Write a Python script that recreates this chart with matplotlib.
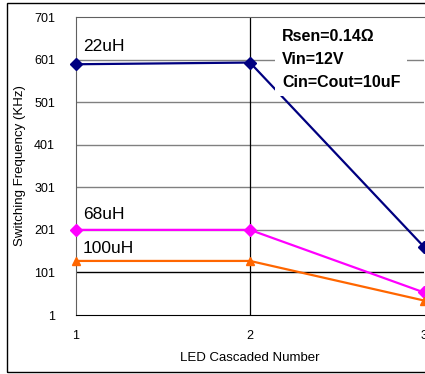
import matplotlib
matplotlib.use('Agg')
import matplotlib.pyplot as plt
from matplotlib.patches import Rectangle

plt.rcParams['font.family'] = ['Liberation Sans', 'DejaVu Sans']

# data
led_count = [1, 2, 3]
f_22uH = [590, 594, 161]
f_68uH = [201, 201, 54]
f_100uH = [128, 128, 35]
y_ticks = [1, 101, 201, 301, 401, 501, 601, 701]

fig = plt.figure(figsize=(4.25, 3.74), dpi=100)
ax = fig.add_axes([76 / 425, 1 - 315 / 374, 348 / 425, 298 / 374])

# outer chart border (right side runs off the picture)
fig.patches.append(Rectangle((7 / 425, 2 / 374), 1.2, 369 / 374, transform=fig.transFigure,
                             fill=False, edgecolor='black', linewidth=1.0))

for t in y_ticks[1:-1]:
    ax.axhline(t, color='black' if t == 101 else '#808080', linewidth=1.0, zorder=1)
ax.axvline(2, color='black', linewidth=0.9, zorder=1)

ax.plot(led_count, f_22uH, color='#000080', marker='D', markersize=6, linewidth=1.6, clip_on=False, zorder=3)
ax.plot(led_count, f_68uH, color='#FF00FF', marker='D', markersize=6, linewidth=1.6, clip_on=False, zorder=3)
ax.plot(led_count, f_100uH, color='#FF6600', marker='^', markersize=6, linewidth=1.6, clip_on=False, zorder=3)

ax.text(1.04, 631, '22uH', fontsize=12.5, va='center', ha='left')
ax.text(1.04, 236, '68uH', fontsize=12.5, va='center', ha='left')
ax.text(1.04, 158, '100uH', fontsize=12.5, va='center', ha='left')

ax.text(0.592, 0.96, 'Rsen=0.14\u03a9\nVin=12V\nCin=Cout=10uF', transform=ax.transAxes,
        fontsize=11.5, fontweight='bold', va='top', ha='left', linespacing=1.65, zorder=4,
        bbox=dict(facecolor='white', edgecolor='none', pad=5))

ax.set_xlim(1, 3)
ax.set_ylim(1, 701)
ax.set_xticks(led_count)
ax.set_yticks(y_ticks)
ax.tick_params(length=0, labelsize=9)
ax.tick_params(axis='y', pad=15)
ax.tick_params(axis='x', pad=11)
ax.set_xlabel('LED Cascaded Number', fontsize=9.5, labelpad=7)
ax.set_ylabel('Switching Frequency (KHz)', fontsize=9.5, labelpad=6)
for s in ['top', 'left']:
    ax.spines[s].set_color('#606060')
ax.spines['right'].set_visible(False)
ax.spines['bottom'].set_color('black')

fig.savefig('out.png', dpi=100)
